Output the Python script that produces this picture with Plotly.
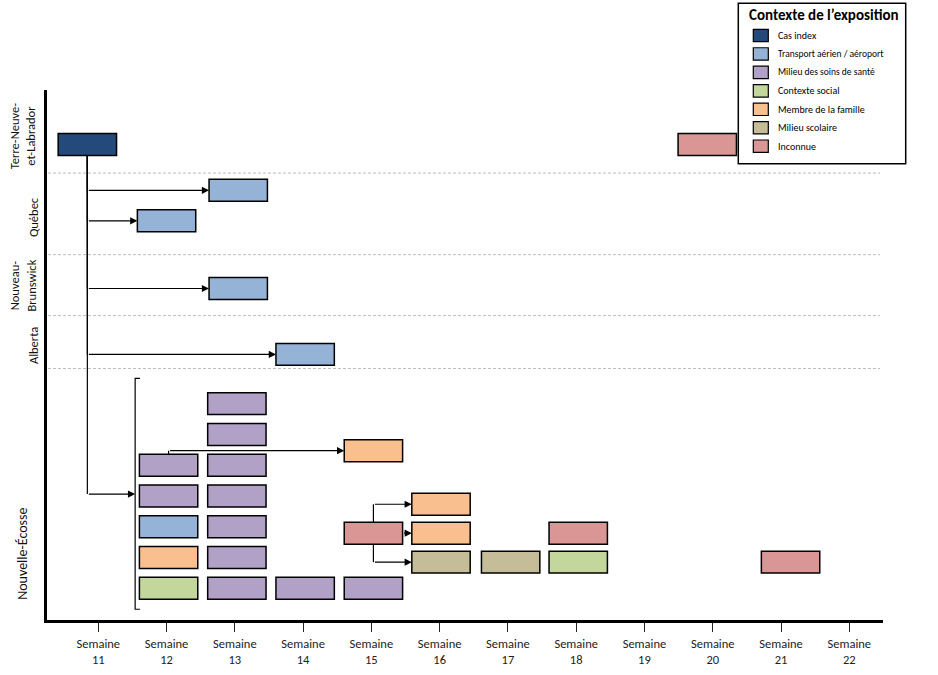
import plotly.graph_objects as go

# ---------------- data ----------------
categories = ["Cas index", "Transport aérien / aéroport", "Milieu des soins de santé",
              "Contexte social", "Membre de la famille", "Milieu scolaire", "Inconnue"]
category_colors = ["#244a7c", "#95b3d7", "#b2a1c7", "#c3d69b", "#fabf8f", "#c4bd97", "#d99694"]

weeks = list(range(11, 23))
week_labels = [f"Semaine<br>{w}" for w in weeks]

provinces = ["Terre-Neuve-<br>et-Labrador", "Québec", "Nouveau-<br>Brunswick", "Alberta", "Nouvelle-Écosse"]
province_label_lane = [15.69, 13.06, 10.82, 8.87, 2.12]
province_boundaries = [14.49, 11.84, 9.86, 8.14]

# each case: week (centre), lane (vertical position), exposure context
box_week = [10.84, 19.92, 13.05, 12.00, 13.05, 14.03,
            12.03, 12.03, 12.03, 12.03, 12.03,
            13.03, 13.03, 13.03, 13.03, 13.03, 13.03, 13.03,
            14.03, 15.03, 15.03, 15.03,
            16.02, 16.02, 16.02, 17.04, 18.03, 18.03, 21.14]
box_lane = [15.42, 15.42, 13.93, 12.94, 10.74, 8.60,
            1, 2, 3, 4, 5,
            1, 2, 3, 4, 5, 6, 7,
            1, 1, 2.79, 5.47,
            1.85, 2.79, 3.73, 1.85, 1.85, 2.79, 1.85]
box_context = ["Cas index", "Inconnue", "Transport aérien / aéroport", "Transport aérien / aéroport",
               "Transport aérien / aéroport", "Transport aérien / aéroport",
               "Contexte social", "Membre de la famille", "Transport aérien / aéroport",
               "Milieu des soins de santé", "Milieu des soins de santé",
               "Milieu des soins de santé", "Milieu des soins de santé", "Milieu des soins de santé",
               "Milieu des soins de santé", "Milieu des soins de santé", "Milieu des soins de santé",
               "Milieu des soins de santé",
               "Milieu des soins de santé", "Milieu des soins de santé", "Inconnue", "Membre de la famille",
               "Milieu scolaire", "Membre de la famille", "Membre de la famille",
               "Milieu scolaire", "Contexte social", "Inconnue", "Inconnue"]

# transmission links (source case -> target case)
link_source = [0, 0, 0, 0, 10, 20, 20, 20]
link_target = [2, 3, 4, 5, 21, 24, 23, 22]

# Nova Scotia group (bracket) reached from the index case
ns_group_week = 11.54
ns_group_lane = 4.06
ns_group_top = 7.82
ns_group_bottom = 0.32

# ---------------- layout constants ----------------
BOX_W = 0.855
BOX_H = 0.714
FONT = "Carlito, Calibri, Lato, sans-serif"
ML, MR, MT, MB = 47, 55, 90, 55
W, H = 938, 675
PW, PH = W - ML - MR, H - MT - MB


def px_x(px):
    return (px - ML) / PW


def px_y(py):
    return (H - MB - py) / PH


fig = go.Figure()

for cat, col in zip(categories, category_colors):
    idx = [i for i, c in enumerate(box_context) if c == cat]
    if not idx:
        continue
    fig.add_trace(go.Bar(
        orientation="h",
        y=[box_lane[i] for i in idx],
        x=[BOX_W] * len(idx),
        base=[box_week[i] - BOX_W / 2 for i in idx],
        width=BOX_H,
        marker=dict(color=col, line=dict(color="black", width=1.5)),
        name=cat,
        showlegend=False,
        customdata=[[round(box_week[i])] for i in idx],
        hovertemplate=cat + "<br>Semaine %{customdata[0]}<extra></extra>",
    ))

shapes = []
annotations = []

# province separators
for b in province_boundaries:
    shapes.append(dict(type="line", xref="x", yref="y", x0=10.19, x1=22.45, y0=b, y1=b,
                       line=dict(color="#bdbdbd", width=1, dash="3px,2px"), layer="below"))

ARROW = dict(showarrow=True, arrowhead=2, arrowsize=1.2, arrowwidth=1.2, arrowcolor="black",
             standoff=0, startstandoff=0, text="", axref="x", ayref="y", xref="x", yref="y")


def elbow(ws, ls, wt, lt, tip_x):
    if abs(lt - ls) < 0.05:
        annotations.append(dict(x=tip_x, y=lt, ax=ws + BOX_W / 2, ay=lt, **ARROW))
    else:
        start = ls - BOX_H / 2 if lt < ls else ls + BOX_H / 2
        shapes.append(dict(type="line", xref="x", yref="y", x0=ws, x1=ws, y0=start, y1=lt,
                           line=dict(color="black", width=1.2)))
        annotations.append(dict(x=tip_x, y=lt, ax=ws, ay=lt, **ARROW))


for s, t in zip(link_source, link_target):
    elbow(box_week[s], box_lane[s], box_week[t], box_lane[t], box_week[t] - BOX_W / 2)

# index case -> Nova Scotia group
elbow(box_week[0], box_lane[0], ns_group_week, ns_group_lane, ns_group_week)

# bracket
shapes.append(dict(type="path", xref="x", yref="y",
                   path=f"M {ns_group_week + 0.07},{ns_group_top} L {ns_group_week},{ns_group_top} "
                        f"L {ns_group_week},{ns_group_bottom} L {ns_group_week + 0.07},{ns_group_bottom}",
                   line=dict(color="black", width=1.2)))

# province labels
label_px = [22, 33, 22.5, 33, 23]
label_size = [12.5, 12.5, 12.5, 12.5, 14]
for name, lane, lx, fs in zip(provinces, province_label_lane, label_px, label_size):
    annotations.append(dict(text=name, xref="paper", yref="y", x=0, y=lane, xshift=lx - ML,
                            xanchor="center", yanchor="middle", textangle=-90, showarrow=False,
                            font=dict(family=FONT, size=fs, color="#111")))

# custom legend
shapes.append(dict(type="rect", xref="paper", yref="paper", x0=px_x(738.3), x1=px_x(905.7),
                   y0=px_y(163.7), y1=px_y(3.3), line=dict(color="black", width=1.5),
                   fillcolor="white", layer="above"))
annotations.append(dict(text="<b>Contexte de l’exposition</b>", xref="paper", yref="paper",
                        x=px_x(824), y=px_y(14.5), xanchor="center", yanchor="middle", showarrow=False,
                        font=dict(family=FONT, size=15, color="black")))
for i, (cat, col) in enumerate(zip(categories, category_colors)):
    cy = 35.5 + i * 18.45
    shapes.append(dict(type="rect", xref="paper", yref="paper", x0=px_x(753.3), x1=px_x(768.3),
                       y0=px_y(cy + 6.2), y1=px_y(cy - 6.2), fillcolor=col,
                       line=dict(color="black", width=1.2), layer="above"))
    annotations.append(dict(text=cat, xref="paper", yref="paper", x=px_x(776), y=px_y(cy),
                            xanchor="left", yanchor="middle", showarrow=False,
                            font=dict(family=FONT, size=10 if len(cat) < 22 else 9.5, color="black")))

fig.update_layout(
    width=W, height=H,
    margin=dict(l=ML, r=MR, t=MT, b=MB),
    plot_bgcolor="white", paper_bgcolor="white",
    barmode="overlay",
    shapes=shapes, annotations=annotations,
    showlegend=False,
    font=dict(family=FONT),
    xaxis=dict(range=[10.249, 22.494], tickvals=weeks, ticktext=week_labels,
               ticks="outside", ticklen=9, tickwidth=1.2, tickcolor="#222",
               ticklabelstandoff=1, automargin=False,
               showline=True, linewidth=3, linecolor="black", showgrid=False, zeroline=False,
               tickfont=dict(family=FONT, size=12.5, color="#222"), fixedrange=True),
    yaxis=dict(range=[-0.03, 17.19], showline=True, linewidth=3, linecolor="black",
               automargin=False,
               showgrid=False, zeroline=False, showticklabels=False, ticks="", fixedrange=True),
)

fig.write_html("out.html", config={"displayModeBar": False},
               post_script="document.body.style.margin='0';")
